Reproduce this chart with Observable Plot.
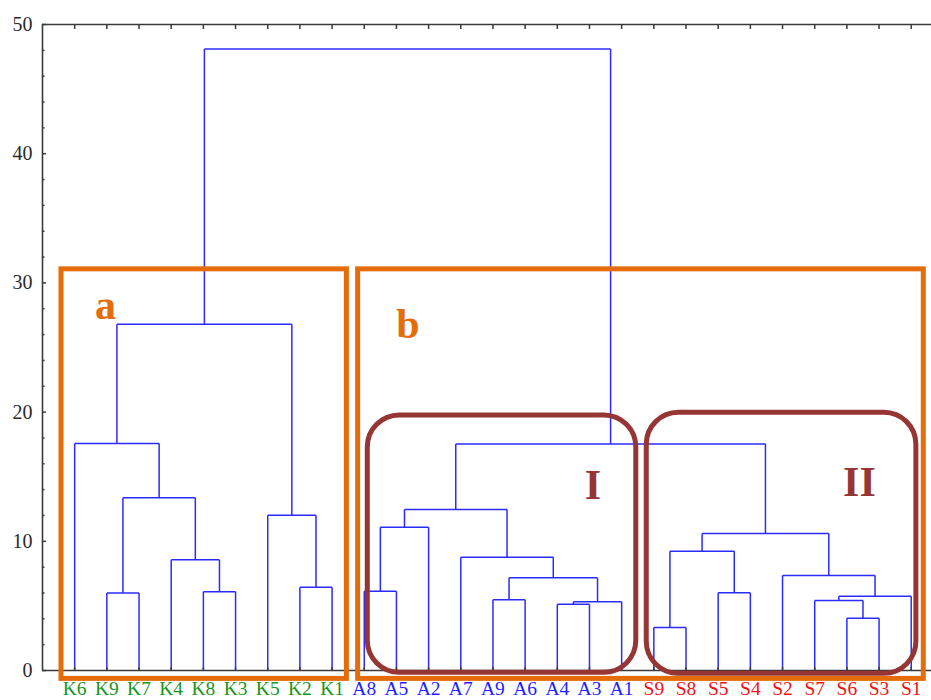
<!DOCTYPE html>
<html>
<head>
<meta charset="utf-8">
<script src="https://cdn.jsdelivr.net/npm/d3@7"></script>
<script src="https://cdn.jsdelivr.net/npm/@observablehq/plot@0.6"></script>
<style>
  html, body { margin: 0; padding: 0; background: #fff; }
  #chart svg { display: block; font-family: 'Liberation Serif','Times New Roman',Times,serif; }
</style>
</head>
<body>
<div id="chart"></div>
<script>
// Leaf order along the x axis
const leaves = ["K6","K9","K7","K4","K8","K3","K5","K2","K1",
                "A8","A5","A2","A7","A9","A6","A4","A3","A1",
                "S9","S8","S5","S4","S2","S7","S6","S3","S1"];
const groupColors = {K: "#17961a", A: "#1f1fff", S: "#f01212"};

// Merges: [left, right, linkage distance]; node i is referred to as "n"+i
const merges = [
  ["K9", "K7", 6.0],     // n0
  ["K8", "K3", 6.1],     // n1
  ["K4", "n1", 8.57],    // n2
  ["n0", "n2", 13.37],   // n3
  ["K6", "n3", 17.57],   // n4
  ["K2", "K1", 6.45],    // n5
  ["K5", "n5", 12.02],   // n6
  ["n4", "n6", 26.8],    // n7
  ["A8", "A5", 6.14],    // n8
  ["n8", "A2", 11.09],   // n9
  ["A9", "A6", 5.47],    // n10
  ["A4", "A3", 5.13],    // n11
  ["n11", "A1", 5.32],   // n12
  ["n10", "n12", 7.17],  // n13
  ["A7", "n13", 8.77],   // n14
  ["n9", "n14", 12.46],  // n15
  ["S9", "S8", 3.33],    // n16
  ["S5", "S4", 6.01],    // n17
  ["n16", "n17", 9.23],  // n18
  ["S6", "S3", 4.05],    // n19
  ["S7", "n19", 5.42],   // n20
  ["n20", "S1", 5.75],   // n21
  ["S2", "n21", 7.35],   // n22
  ["n18", "n22", 10.6],  // n23
  ["n15", "n23", 17.54], // n24
  ["n7", "n24", 48.1]    // n25
];

const yTicks = [0, 10, 20, 30, 40, 50];
const yMinorTicks = [2,4,6,8,12,14,16,18,22,24,26,28,32,34,36,38,42,44,46,48];

// Annotation boxes (data units: leaf index, distance)
const outerNames = ["a", "b"];
const outerX1 = [-0.41, 8.81];
const outerX2 = [8.46, 26.39];
const outerY1 = [-0.65, -0.65];
const outerY2 = [31.05, 31.05];
const outerLabelX = [0.96, 10.36];
const outerLabelY = [27.17, 25.77];

const innerNames = ["I", "II"];
const innerX1 = [9.11, 17.78];
const innerX2 = [17.455, 26.16];
const innerY1 = [-0.18, -0.26];
const innerY2 = [19.74, 19.95];
const innerLabelX = [16.11, 24.39];
const innerLabelY = [13.24, 13.47];

// Build dendrogram segments
const pos = new Map();
leaves.forEach((l, i) => pos.set(l, {x: i, y: 0}));
const segs = [];
merges.forEach(([a, b, h], i) => {
  const A = pos.get(a), B = pos.get(b);
  segs.push({x1: A.x, y1: A.y, x2: A.x, y2: h});
  segs.push({x1: B.x, y1: B.y, x2: B.x, y2: h});
  segs.push({x1: A.x, y1: h, x2: B.x, y2: h});
  pos.set("n" + i, {x: (A.x + B.x) / 2, y: h});
});

const outer = outerNames.map((n, i) => ({name: n, x1: outerX1[i], x2: outerX2[i], y1: outerY1[i], y2: outerY2[i], lx: outerLabelX[i], ly: outerLabelY[i]}));
const inner = innerNames.map((n, i) => ({name: n, x1: innerX1[i], x2: innerX2[i], y1: innerY1[i], y2: innerY2[i], lx: innerLabelX[i], ly: innerLabelY[i]}));
const leafData = leaves.map((l, i) => ({name: l, i, color: groupColors[l[0]]}));

const serif = "'Liberation Serif','Times New Roman',Times,serif";
const axisColor = "#3a3a3a";
const orange = "#e46c0a";
const brown = "#963634";

const chart = Plot.plot({
  width: 931,
  height: 700,
  marginLeft: 42,
  marginRight: 0,
  marginTop: 24,
  marginBottom: 30,
  style: {fontFamily: serif, background: "#fff", overflow: "visible"},
  x: {domain: [-1, 26.63], label: null},
  y: {domain: [0, 50], label: null},
  color: {type: "identity"},
  marks: [
    Plot.link(segs, {x1: "x1", y1: "y1", x2: "x2", y2: "y2", stroke: "#2b2bff", strokeWidth: 1.5}),
    Plot.ruleX([-1], {stroke: axisColor, strokeWidth: 1.6}),
    Plot.ruleY([0, 50], {stroke: axisColor, strokeWidth: 1.6}),
    Plot.axisY(yTicks, {anchor: "left", tickSize: 0, tickPadding: 10, fontSize: 20, fontFamily: serif, fill: "#2a2a2a", label: null}),
    Plot.axisY(yTicks, {anchor: "left", tickSize: -4, fill: "none", stroke: axisColor, strokeWidth: 1.5, label: null}),
    Plot.axisY(yMinorTicks, {anchor: "left", tickSize: -2.5, fill: "none", stroke: axisColor, strokeWidth: 1.5, label: null}),
    Plot.axisX(d3.range(leaves.length), {anchor: "top", tickSize: -4, fill: "none", stroke: axisColor, strokeWidth: 1.5, label: null}),
    Plot.axisX(d3.range(leaves.length), {anchor: "bottom", tickSize: -3, fill: "none", stroke: axisColor, strokeWidth: 1.5, label: null}),
    Plot.text(leafData, {x: "i", y: 0, text: "name", fill: "color", dy: 24.5, lineAnchor: "bottom", fontSize: 19.5, fontFamily: serif}),
    Plot.rect(outer, {x1: "x1", x2: "x2", y1: "y1", y2: "y2", fill: "none", stroke: orange, strokeWidth: 5}),
    Plot.rect(inner, {x1: "x1", x2: "x2", y1: "y1", y2: "y2", fill: "none", stroke: brown, strokeWidth: 5, rx: 32}),
    Plot.text(outer, {x: "lx", y: "ly", text: "name", fill: orange, fontSize: 42, fontWeight: "bold", fontFamily: serif, lineAnchor: "bottom"}),
    Plot.text(inner, {x: "lx", y: "ly", text: "name", fill: brown, fontSize: 42, fontWeight: "bold", fontFamily: serif, lineAnchor: "bottom"})
  ]
});
document.getElementById("chart").appendChild(chart);
</script>
</body>
</html>
